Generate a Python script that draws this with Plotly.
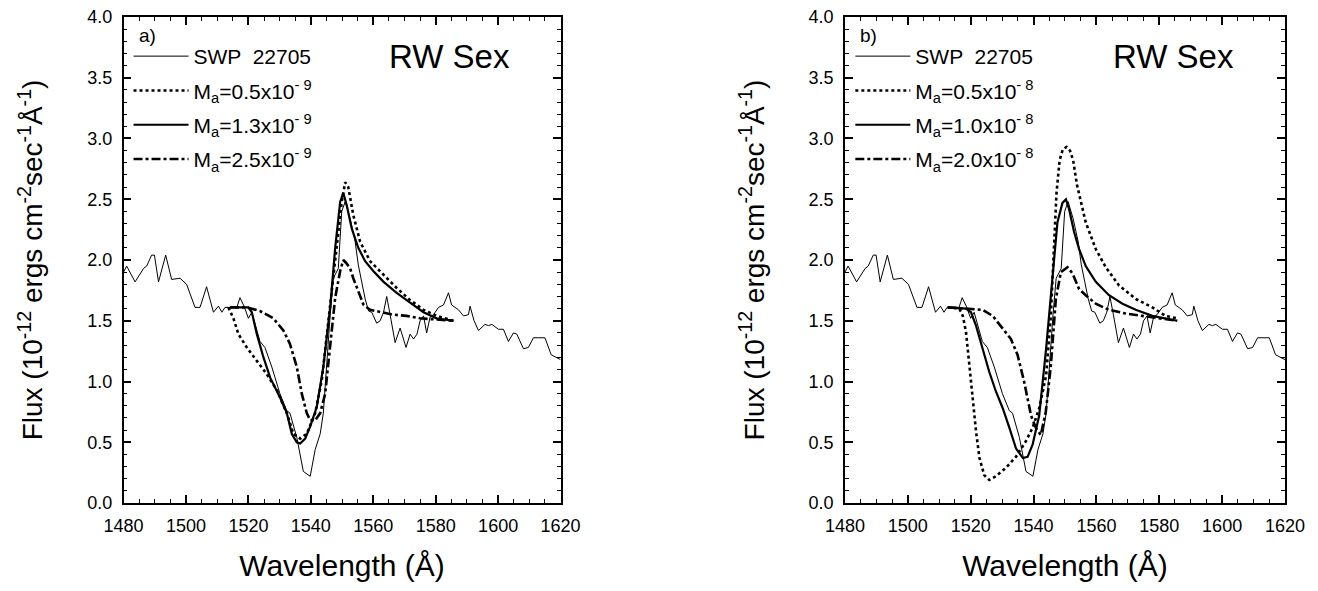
import plotly.graph_objects as go

# Observed spectrum SWP 22705 (same in both panels)
obs_wl = [1480.0, 1481.0, 1483.7, 1486.4, 1487.4, 1489.0, 1489.9, 1491.2, 1493.5, 1495.4,
          1498.1, 1500.2, 1502.9, 1504.5, 1506.6, 1508.8, 1510.4, 1511.5, 1512.5, 1514.1,
          1516.3, 1517.3, 1518.6, 1520.0, 1521.1, 1523.7, 1525.3, 1527.5, 1530.1, 1532.3,
          1533.3, 1535.5, 1537.6, 1539.8, 1541.4, 1543.0, 1544.0, 1546.2, 1547.2, 1548.8,
          1549.9, 1551.0, 1552.6, 1554.2, 1555.2, 1556.3, 1557.4, 1558.5, 1559.5, 1561.1,
          1562.2, 1563.3, 1564.3, 1565.4, 1567.0, 1568.6, 1570.5, 1571.8, 1572.9, 1574.0,
          1575.0, 1576.1, 1577.1, 1578.2, 1579.3, 1580.9, 1582.5, 1584.1, 1585.1, 1586.2,
          1587.3, 1588.9, 1590.5, 1591.0, 1592.3, 1593.7, 1595.8, 1596.9, 1598.0, 1600.1,
          1601.7, 1603.3, 1604.9, 1606.0, 1608.1, 1609.7, 1611.3, 1613.0, 1615.0, 1617.0,
          1620.0]
obs_flux = [1.90, 1.95, 1.82, 1.93, 1.95, 2.04, 2.04, 1.82, 2.04, 1.84,
            1.85, 1.80, 1.61, 1.61, 1.78, 1.57, 1.62, 1.57, 1.61, 1.61,
            1.61, 1.69, 1.62, 1.52, 1.57, 1.33, 1.28, 1.12, 0.90, 0.76,
            0.74, 0.54, 0.26, 0.22, 0.44, 0.57, 0.74, 1.55, 1.85, 1.93,
            2.40, 2.48, 2.34, 2.15, 1.96, 1.82, 1.68, 1.58, 1.57, 1.48,
            1.50, 1.57, 1.70, 1.55, 1.32, 1.44, 1.28, 1.39, 1.35, 1.39,
            1.50, 1.54, 1.40, 1.53, 1.55, 1.61, 1.63, 1.73, 1.63, 1.61,
            1.59, 1.54, 1.55, 1.62, 1.50, 1.42, 1.47, 1.46, 1.47, 1.43,
            1.43, 1.33, 1.40, 1.39, 1.27, 1.28, 1.36, 1.36, 1.36, 1.22,
            1.18]

# Panel a models
a_low_wl = [1513.6, 1515.2, 1516.8, 1519.5, 1522.7, 1525.9, 1529.1, 1532.3, 1534.4, 1536.6,
            1538.7, 1541.4, 1543.5, 1545.6, 1547.8, 1549.9, 1551.0, 1552.0, 1553.6, 1555.8,
            1559.0, 1563.3, 1567.5, 1571.8, 1576.1, 1580.3, 1585.7]
a_low_fx = [1.61, 1.52, 1.39, 1.28, 1.17, 1.06, 0.93, 0.74, 0.57, 0.53,
            0.57, 0.74, 1.01, 1.50, 2.04, 2.48, 2.64, 2.60, 2.37, 2.15,
            1.99, 1.88, 1.77, 1.67, 1.59, 1.54, 1.50]
a_mid_wl = [1514.1, 1520.0, 1521.1, 1522.7, 1524.8, 1527.0, 1530.1, 1532.3, 1533.9, 1535.5,
            1536.6, 1538.2, 1539.8, 1541.9, 1544.0, 1546.2, 1547.8, 1549.4, 1550.4, 1551.5,
            1553.1, 1555.2, 1557.4, 1560.0, 1563.3, 1567.5, 1571.8, 1576.1, 1580.3, 1585.7]
a_mid_fx = [1.61, 1.61, 1.57, 1.39, 1.20, 1.03, 0.87, 0.74, 0.57, 0.50,
            0.49, 0.53, 0.63, 0.79, 1.12, 1.61, 2.10, 2.48, 2.55, 2.45,
            2.26, 2.10, 1.99, 1.91, 1.82, 1.73, 1.65, 1.57, 1.52, 1.50]
a_high_wl = [1514.1, 1519.5, 1523.7, 1528.0, 1531.2, 1533.3, 1535.5, 1537.1, 1538.7, 1539.8,
             1541.4, 1543.0, 1544.6, 1546.2, 1547.8, 1549.4, 1550.4, 1551.5, 1552.6, 1553.6,
             1555.2, 1556.9, 1559.0, 1562.2, 1566.4, 1570.7, 1575.0, 1580.3, 1585.7]
a_high_fx = [1.61, 1.61, 1.58, 1.52, 1.42, 1.31, 1.12, 0.90, 0.74, 0.68,
             0.68, 0.74, 0.90, 1.28, 1.69, 1.91, 2.00, 1.97, 1.93, 1.85,
             1.74, 1.63, 1.59, 1.57, 1.55, 1.54, 1.52, 1.51, 1.50]

# Panel b models
b_low_wl = [1512.7, 1516.4, 1517.5, 1518.5, 1519.6, 1520.6, 1521.7, 1522.8, 1524.3, 1525.9,
            1528.0, 1531.2, 1534.4, 1537.6, 1539.7, 1541.8, 1544.0, 1545.5, 1546.6, 1547.3,
            1548.3, 1549.3, 1550.5, 1551.6, 1552.6, 1553.8, 1556.6, 1559.8, 1563.0, 1567.2,
            1572.5, 1577.8, 1582.0, 1585.7]
b_low_fx = [1.61, 1.60, 1.54, 1.41, 1.13, 0.86, 0.59, 0.37, 0.23, 0.19,
            0.22, 0.29, 0.38, 0.51, 0.62, 0.78, 1.05, 1.54, 2.09, 2.55,
            2.82, 2.91, 2.93, 2.90, 2.82, 2.62, 2.31, 2.09, 1.94, 1.79,
            1.68, 1.61, 1.54, 1.52]
b_mid_wl = [1512.7, 1518.5, 1520.1, 1521.7, 1523.8, 1525.9, 1528.0, 1530.2, 1532.3, 1534.4,
            1536.6, 1538.1, 1539.7, 1541.8, 1544.0, 1546.0, 1547.6, 1549.2, 1550.3, 1551.3,
            1552.9, 1554.5, 1556.6, 1559.8, 1564.0, 1568.3, 1572.5, 1577.8, 1583.1, 1585.7]
b_mid_fx = [1.61, 1.60, 1.57, 1.46, 1.27, 1.08, 0.92, 0.78, 0.62, 0.45,
            0.37, 0.38, 0.48, 0.72, 1.27, 1.84, 2.31, 2.47, 2.50, 2.42,
            2.23, 2.09, 1.95, 1.82, 1.71, 1.64, 1.59, 1.54, 1.51, 1.50]
b_high_wl = [1512.7, 1520.6, 1523.8, 1527.0, 1530.2, 1532.8, 1534.9, 1537.0, 1539.2, 1540.7,
             1542.3, 1543.9, 1545.5, 1547.1, 1548.7, 1550.8, 1552.4, 1554.5, 1556.6, 1559.8,
             1564.0, 1569.3, 1574.6, 1579.9, 1585.7]
b_high_fx = [1.61, 1.60, 1.59, 1.54, 1.43, 1.35, 1.22, 1.00, 0.72, 0.62,
             0.56, 0.75, 1.13, 1.68, 1.90, 1.94, 1.89, 1.76, 1.71, 1.64,
             1.59, 1.56, 1.54, 1.52, 1.50]

x_ticks = [1480, 1500, 1520, 1540, 1560, 1580, 1600, 1620]
y_ticks = [0.0, 0.5, 1.0, 1.5, 2.0, 2.5, 3.0, 3.5, 4.0]

obs_name = "SWP  22705"
names_a = ["M<sub>a</sub>=0.5x10<sup>- 9</sup>", "M<sub>a</sub>=1.3x10<sup>- 9</sup>", "M<sub>a</sub>=2.5x10<sup>- 9</sup>"]
names_b = ["M<sub>a</sub>=0.5x10<sup>- 8</sup>", "M<sub>a</sub>=1.0x10<sup>- 8</sup>", "M<sub>a</sub>=2.0x10<sup>- 8</sup>"]

FONT = "Liberation Sans, Arial, Helvetica, sans-serif"
fig = go.Figure()

def add_panel(xa, ya, leg, models, names, obs_dash, tag):
    fig.add_trace(go.Scatter(x=obs_wl, y=obs_flux, mode="lines", name=obs_name,
                             line=dict(color="black", width=1, dash=obs_dash),
                             xaxis=xa, yaxis=ya, legend=leg, legendgroup=tag + "0"))
    styles = [dict(dash="dot", width=2.6), dict(dash="solid", width=2.2),
              dict(dash="dashdot", width=2.6)]
    for i, ((wl, fx), nm, st) in enumerate(zip(models, names, styles)):
        fig.add_trace(go.Scatter(x=wl, y=fx, mode="lines", name=nm,
                                 line=dict(color="black", **st),
                                 xaxis=xa, yaxis=ya, legend=leg, legendgroup=tag + str(i + 1)))

add_panel("x", "y", "legend", [(a_low_wl, a_low_fx), (a_mid_wl, a_mid_fx), (a_high_wl, a_high_fx)],
          names_a, "solid", "a")
add_panel("x2", "y2", "legend2", [(b_low_wl, b_low_fx), (b_mid_wl, b_mid_fx), (b_high_wl, b_high_fx)],
          names_b, "solid", "b")

xcommon = dict(range=[1480, 1620], tickvals=x_ticks, ticks="inside", ticklen=8, tickwidth=1.5,
               tickcolor="black", showline=True, linecolor="black", linewidth=1.5, mirror="allticks",
               showgrid=False, zeroline=False, tickfont=dict(size=18, family=FONT), automargin=False,
               ticklabelstandoff=6, ticklabeloverflow="allow",
               minor=dict(dtick=5, tick0=1480, ticks="inside", ticklen=4, tickwidth=1.2, tickcolor="black"),
               title=dict(text="Wavelength (Å)", font=dict(size=30, family=FONT), standoff=20))
ycommon = dict(range=[0, 4], tickvals=y_ticks, tickformat=".1f", ticks="inside", ticklen=8, tickwidth=1.5,
               tickcolor="black", showline=True, linecolor="black", linewidth=1.5, mirror="allticks",
               showgrid=False, zeroline=False, tickfont=dict(size=18, family=FONT), automargin=False,
               ticklabelstandoff=6, ticklabeloverflow="allow",
               minor=dict(dtick=0.1, tick0=0, ticks="inside", ticklen=4, tickwidth=1.2, tickcolor="black"),
               title=dict(text="Flux (10<sup>-12</sup> ergs cm<sup>-2</sup>sec<sup>-1</sup>Å<sup>-1</sup>)",
                          font=dict(size=28, family=FONT), standoff=36))

ydom = [0.1509, 0.9846]
fig.update_layout(
    width=1310, height=583, margin=dict(l=0, r=0, t=0, b=0, autoexpand=False),
    plot_bgcolor="white", paper_bgcolor="white",
    font=dict(family=FONT, color="black"),
    xaxis=dict(domain=[0.0882, 0.4218], anchor="y", **xcommon),
    yaxis=dict(domain=ydom, anchor="x", **ycommon),
    xaxis2=dict(domain=[0.6389, 0.9748], anchor="y2", **xcommon),
    yaxis2=dict(domain=ydom, anchor="x2", **ycommon),
    legend=dict(x=0.092, y=0.952, xanchor="left", yanchor="top", bgcolor="rgba(0,0,0,0)",
                font=dict(size=21, family=FONT), tracegroupgap=4, itemwidth=55),
    legend2=dict(x=0.643, y=0.952, xanchor="left", yanchor="top", bgcolor="rgba(0,0,0,0)",
                 font=dict(size=21, family=FONT), tracegroupgap=4, itemwidth=55),
    showlegend=True,
)

for xr, lab in [("x domain", "a)"), ("x2 domain", "b)")]:
    fig.add_annotation(x=0.03, y=0.975, xref=xr, yref="paper", text=lab, showarrow=False,
                       xanchor="left", yanchor="top", font=dict(size=19, family=FONT))
    fig.add_annotation(x=0.889, y=0.916, xref=xr, yref="paper", text="RW Sex", showarrow=False,
                       xanchor="right", yanchor="middle", font=dict(size=33, family=FONT))

fig.write_html("out.html")
